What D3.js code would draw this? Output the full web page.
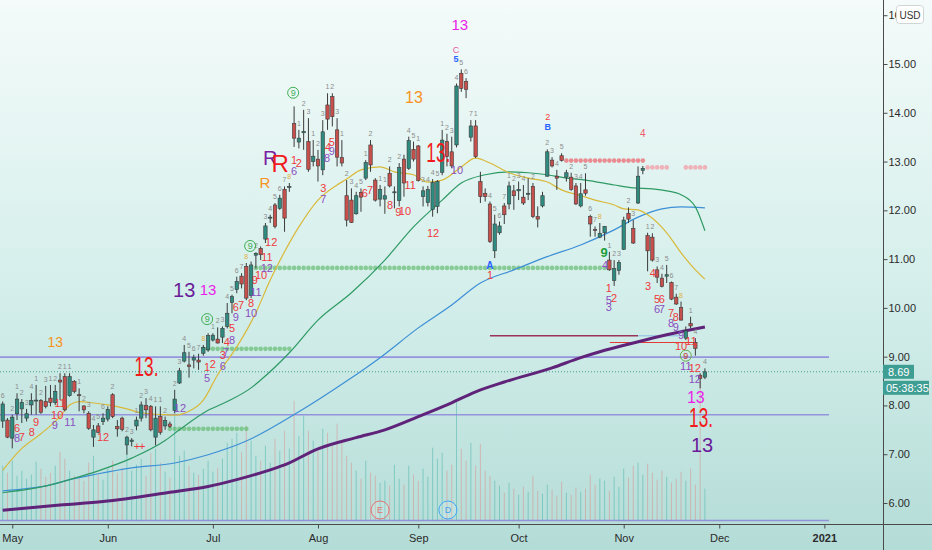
<!DOCTYPE html>
<html>
<head>
<meta charset="utf-8">
<script src="https://cdn.jsdelivr.net/npm/d3@7"></script>
<style>
  body { margin: 0; overflow: hidden; }
  svg { display: block; font-family: "Liberation Sans", Arial, sans-serif; }
</style>
</head>
<body>
<svg id="chart" width="932" height="550"></svg>
<script>
// daily candles, first bar = Apr 29 2020, last bar = Nov 25 2020
var open = [
  7.68,7.70,7.33,7.83,7.93,7.74,8.01,8.09,8.10,8.08,
  8.15,8.06,8.52,8.59,8.20,8.49,8.22,7.99,7.84,7.35,
  7.58,7.67,7.72,8.22,7.57,7.74,7.19,7.26,7.58,7.74,
  8.00,7.98,7.35,7.77,7.58,7.62,7.90,8.46,8.91,8.83,
  8.93,8.93,9.07,9.14,9.34,9.36,9.40,9.62,10.11,10.38,
  10.65,10.85,10.25,11.08,11.22,11.41,11.84,12.11,12.04,12.43,
  12.47,13.78,13.40,13.59,13.41,13.00,13.05,12.83,14.16,14.33,
  13.65,13.08,12.30,12.21,11.93,12.37,12.66,13.34,12.62,12.23,
  12.23,12.76,12.36,12.20,13.05,12.86,13.25,13.32,12.28,12.16,
  12.02,12.08,12.78,13.41,13.20,13.34,14.81,14.64,13.50,13.73,
  12.59,12.35,12.13,11.17,11.54,12.09,12.13,12.40,12.40,12.27,
  12.33,12.49,11.87,12.09,12.70,13.03,12.70,13.12,12.68,12.68,
  12.50,12.09,12.42,11.87,11.61,11.45,11.54,10.98,10.56,10.77,
  11.20,11.94,11.63,12.15,12.82,11.48,11.45,10.78,10.61,10.65,
  10.52,10.22,10.01,9.38,9.68,9.29,8.62,8.58
];
var high = [
  8.08,7.74,7.81,8.25,8.13,7.93,8.25,8.42,8.13,8.40,
  8.42,8.42,8.66,8.66,8.66,8.52,8.35,8.00,7.88,7.60,
  7.64,7.84,7.98,8.25,7.70,7.77,7.38,7.33,7.77,8.08,
  8.15,8.01,7.98,7.98,7.77,7.67,8.32,8.77,9.24,9.10,
  9.04,9.06,9.24,9.48,9.48,9.60,9.62,10.10,10.27,10.64,
  10.71,10.92,10.95,11.14,11.26,11.74,11.91,12.15,12.32,12.49,
  12.56,14.13,13.65,14.06,13.89,13.44,13.24,13.85,14.40,14.40,
  13.89,13.44,12.62,12.45,12.38,12.45,13.03,13.44,12.66,12.52,
  12.49,12.90,12.49,12.97,13.14,13.51,13.41,13.34,12.49,12.50,
  12.64,12.62,13.65,13.57,13.51,14.60,14.89,14.71,13.85,13.85,
  12.79,12.45,12.18,11.91,11.77,12.15,12.59,12.52,12.59,12.52,
  12.66,12.56,12.08,12.38,13.25,13.09,12.83,13.17,12.83,12.77,
  12.56,12.56,12.76,11.91,11.67,11.74,11.68,11.15,10.98,10.98,
  11.87,12.06,11.80,12.90,12.91,11.54,11.53,10.85,10.70,10.88,
  10.54,10.29,10.13,9.62,9.82,9.38,8.66,8.76
];
var low = [
  7.54,7.33,7.12,7.70,7.64,7.67,7.81,7.81,7.83,7.94,
  7.98,8.01,8.11,7.88,8.18,8.25,7.88,7.84,7.50,7.15,
  7.43,7.60,7.67,7.74,7.36,7.47,6.99,7.16,7.49,7.67,
  7.74,7.47,7.18,7.40,7.50,7.54,7.84,8.44,8.88,8.57,
  8.76,8.73,9.02,9.10,9.31,9.27,9.28,9.58,9.89,10.30,
  10.40,10.16,10.20,10.81,10.98,11.33,11.74,11.63,12.01,11.56,
  12.38,13.30,13.27,13.24,12.79,12.90,12.59,12.72,13.65,13.72,
  12.90,12.90,11.67,11.74,11.91,11.97,12.62,12.79,12.18,12.08,
  11.93,12.47,12.04,12.08,12.28,12.83,13.00,12.59,12.08,12.08,
  11.87,11.94,12.72,12.90,12.86,13.29,14.43,14.30,13.41,13.07,
  12.15,12.18,11.33,11.02,11.50,11.72,12.02,12.01,12.21,12.11,
  12.21,11.84,11.65,12.06,12.69,12.88,12.42,13.00,12.59,12.40,
  12.11,12.06,12.30,11.46,11.46,11.43,11.38,10.76,10.45,10.68,
  11.19,11.74,11.31,12.13,12.74,10.75,10.95,10.51,10.42,10.51,
  10.16,10.06,9.74,9.34,9.58,9.02,8.35,8.54
];
var close = [
  8.03,7.35,7.76,8.13,8.06,7.83,8.10,8.11,7.86,7.98,
  8.06,8.29,8.48,7.91,8.59,8.29,8.21,7.91,7.53,7.50,
  7.45,7.74,7.92,7.77,7.52,7.51,7.35,7.29,7.70,8.01,
  7.91,7.50,7.74,7.45,7.69,7.57,8.13,8.71,9.08,8.80,
  8.98,8.89,9.19,9.43,9.44,9.28,9.58,9.89,10.23,10.54,
  10.49,10.20,10.88,11.12,11.09,11.68,11.86,11.67,12.25,11.84,
  12.49,13.48,13.48,13.62,12.84,13.11,12.91,13.61,13.87,13.92,
  13.09,12.97,11.80,11.75,12.30,12.27,12.98,12.93,12.21,12.43,
  12.30,12.50,12.38,12.88,12.56,13.43,13.05,12.61,12.40,12.43,
  12.57,12.59,13.44,13.10,12.91,14.55,14.50,14.48,13.73,13.10,
  12.28,12.28,11.36,11.72,11.68,11.91,12.50,12.30,12.43,12.15,
  12.35,11.87,11.82,12.30,13.20,12.91,12.66,13.02,12.77,12.43,
  12.13,12.34,12.35,11.72,11.60,11.53,11.67,10.78,10.81,10.93,
  11.80,11.82,11.33,12.70,12.86,11.17,10.98,10.63,10.44,10.68,
  10.18,10.08,9.75,9.53,9.63,9.17,8.55,8.69
];
// volume in millions
var volume = [
  5.5,4.8,6.0,4.5,5.0,4.2,4.6,5.9,5.2,4.4,
  4.8,5.5,6.9,6.2,5.0,4.5,4.2,4.0,5.8,6.5,
  4.6,4.1,5.2,6.0,4.8,5.3,7.5,5.0,5.6,6.2,
  4.5,6.8,7.2,5.8,4.9,4.3,12.0,6.5,7.0,5.5,
  4.8,4.6,5.2,6.0,4.9,5.3,6.2,7.8,8.2,8.8,
  6.9,9.5,8.0,6.5,6.0,7.5,5.8,8.2,7.0,9.0,
  7.2,12.0,8.5,10.5,9.0,8.0,7.0,9.2,8.8,7.5,
  9.7,8.0,6.5,5.8,5.0,4.2,6.0,4.8,4.5,3.8,
  4.0,3.5,5.6,4.2,3.6,5.5,4.6,4.0,5.2,4.4,
  7.3,6.2,6.8,5.0,5.6,12.0,7.2,6.0,7.8,5.5,
  7.7,5.0,4.5,4.0,3.5,2.8,3.8,3.2,2.6,3.4,
  2.9,4.5,3.0,2.7,3.6,3.1,2.5,3.9,2.8,2.6,
  3.3,2.9,3.2,4.6,3.6,4.2,4.0,3.0,4.4,3.4,
  5.2,4.3,5.5,5.8,4.6,5.7,4.8,4.1,5.0,4.4,
  3.8,4.2,4.9,4.0,5.2,3.6,14.0,3.2
];

// moving averages: [bar index, price]
var maYellow = [[0,6.67],[4,7.12],[8,7.42],[12,7.77],[14,8.01],[16,8.08],[19,8.05],[22,8.01],[26,7.93],
  [29,7.85],[32,7.82],[34,7.81],[36,7.80],[39,7.88],[42,8.11],[45,8.63],[49,9.20],[53,9.90],[56,10.57],
  [59,11.15],[62,11.66],[66,12.21],[70,12.52],[72,12.64],[75,12.83],[79,12.89],[82,12.79],[86,12.73],
  [89,12.58],[92,12.62],[96,12.89],[99,13.07],[102,12.97],[106,12.77],[110,12.66],[114,12.58],[117,12.42],
  [121,12.30],[124,12.21],[128,12.11],[130,12.03],[133,12.01],[135,11.91],[139,11.54],[142,11.13],
  [145,10.78],[147,10.59]];
var maGreen = [[0,6.21],[10,6.37],[14,6.48],[20,6.66],[27,6.92],[34,7.28],[37,7.50],[43,7.90],[47,8.08],
  [52,8.36],[54,8.52],[60,9.08],[66,9.75],[73,10.31],[80,10.98],[86,11.66],[92,12.21],
  [96,12.56],[101,12.73],[106,12.79],[110,12.77],[114,12.73],[118,12.66],[122,12.62],[128,12.52],
  [132,12.46],[136,12.44],[139,12.40],[142,12.32],[145,12.07],[147,11.58]];
var maBlue = [[0,6.25],[10,6.37],[14,6.48],[20,6.60],[27,6.72],[36,6.82],[43,6.99],[51,7.27],[62,7.87],
  [72,8.50],[79,8.98],[87,9.59],[94,10.06],[100,10.51],[107,10.78],[114,11.05],[121,11.29],[128,11.60],
  [133,11.86],[138,12.03],[142,12.07],[147,12.05]];
var maPurple = [[0,5.85],[12,5.96],[21,6.03],[35,6.22],[43,6.34],[49,6.48],[56,6.68],[59,6.78],[66,7.11],
  [74,7.34],[80,7.50],[87,7.77],[93,8.01],[99,8.28],[105,8.48],[115,8.77],[121,8.98],[125,9.10],
  [132,9.28],[139,9.45],[147,9.61]];

// month ticks: label and bar index of first session
var monthLabels = ["May","Jun","Jul","Aug","Sep","Oct","Nov","Dec","2021"];
var monthBars = [2,22,44,66,87,108,130,150,172];

// price levels
var levelLines = [8.99, 7.81, 5.64];
var lastPrice = 8.69;

// dotted support / resistance rows: price, first bar, last bar, colour
var dotRows = [
  [10.82, 53, 126, "g"], [9.16, 42, 60, "g"], [7.52, 35, 51, "g"],
  [13.02, 118, 134, "r"], [12.88, 135, 139, "p"], [12.88, 143, 147, "p"]
];

// small grey setup counts above candles: [bar number (1 = first), text]
var setupCounts = [
  [1,"6"],[3,"2"],[4,"1"],[5,"2"],[6,"3"],[7,"4"],[8,"1"],[9,"2"],[10,"3"],[11,"1"],[12,"2"],[13,"2"],
  [14,"1"],[15,"1"],[17,"1"],[18,"2"],[19,"3"],[20,"4"],[21,"5"],[22,"6"],[24,"2"],[27,"2"],[28,"3"],
  [29,"1"],[30,"2"],[31,"3"],[32,"4"],[33,"1"],[34,"1"],[35,"2"],[37,"2"],[38,"3"],[39,"4"],[40,"5"],
  [41,"6"],[42,"7"],[43,"8"],[45,"1"],[46,"2"],[47,"3"],[48,"4"],[49,"5"],[50,"6"],[51,"7"],[52,"8"],
  [54,"2"],[56,"3"],[57,"4"],[58,"5"],[59,"6"],[60,"7"],[61,"8"],[63,"1"],[64,"2"],[65,"3"],[66,"1"],
  [67,"2"],[68,"3"],[69,"1"],[70,"2"],[71,"3"],[72,"1"],[73,"2"],[74,"3"],[75,"4"],[76,"5"],[77,"1"],
  [78,"2"],[80,"1"],[81,"1"],[82,"2"],[84,"2"],[86,"4"],[87,"5"],[88,"1"],[89,"3"],[90,"4"],[91,"4"],
  [92,"5"],[93,"1"],[94,"2"],[95,"3"],[96,"4"],[97,"5"],[98,"6"],[99,"7"],[100,"1"],[103,"4"],[104,"5"],
  [105,"6"],[106,"7"],[107,"1"],[108,"2"],[109,"3"],[110,"4"],[112,"2"],[115,"2"],[116,"3"],[117,"4"],
  [118,"5"],[120,"2"],[121,"3"],[122,"4"],[123,"5"],[124,"6"],[125,"7"],[126,"8"],[128,"1"],[129,"2"],
  [130,"3"],[132,"2"],[133,"3"],[136,"1"],[137,"2"],[138,"3"],[139,"4"],[140,"5"],[141,"6"],[142,"7"],
  [143,"8"],[145,"1"],[146,"4"],[148,"4"]
];

// countdown numbers: bar index, price, text, r = red / v = violet
var countLabels = [
  [3.0,7.54,"6","r"],[3.0,7.34,"8","v"],[4.0,7.36,"7","r"],[6.1,7.46,"8","r"],[7.0,7.66,"9","r"],
  [10.9,7.60,"9","v"],[11.4,7.81,"10","r"],[12.0,8.05,"11","r"],[14.1,7.66,"11","v"],[21.0,7.36,"12","r"],
  [28.1,7.17,"+","r"],[29.2,7.17,"+","r"],[37.1,7.95,"12","v"],
  [42.8,8.79,"1","r"],[44.0,8.85,"2","r"],[42.8,8.57,"5","v"],[46.1,9.04,"3","r"],[46.1,8.81,"6","v"],
  [46.7,9.10,"7","v"],[46.9,9.30,"4","r"],[48.0,9.34,"8","v"],[48.0,9.59,"5","r"],[48.8,9.82,"9","v"],
  [48.8,10.02,"6","r"],[49.9,10.06,"7","r"],[52.0,10.10,"8","r"],[52.0,9.90,"10","v"],[53.0,10.33,"11","v"],
  [52.8,10.57,"9","r"],[54.1,10.68,"10","r"],[55.3,10.82,"12","v"],[55.3,11.05,"11","r"],[56.2,11.35,"12","r"],
  [61.0,13.03,"1","r"],[62.0,12.97,"2","r"],[61.0,12.81,"6","v"],[67.1,12.46,"3","r"],[67.1,12.23,"7","v"],
  [68.1,13.30,"4","r"],[68.9,13.40,"5","r"],[67.9,13.07,"8","v"],[68.9,13.22,"9","v"],
  [75.8,12.36,"6","r"],[76.9,12.42,"7","r"],[81.1,12.11,"8","r"],[82.8,11.97,"9","r"],[84.2,11.99,"10","r"],
  [85.3,12.52,"11","r"],[90.1,11.54,"12","r"],[95.1,12.83,"10","v"],[102.0,10.68,"1","r"],
  [126.1,10.88,"4","v"],[126.9,10.41,"1","r"],[126.9,10.16,"5","v"],[128.0,10.20,"2","r"],[126.9,10.02,"3","v"],
  [135.1,10.45,"3","r"],[136.1,10.72,"4","r"],[137.0,10.18,"5","r"],[138.0,10.18,"6","r"],[137.0,9.98,"6","v"],
  [138.0,9.98,"7","v"],[139.9,9.90,"7","r"],[140.9,9.82,"8","r"],[139.9,9.69,"8","v"],[140.9,9.61,"9","v"],
  [142.0,9.45,"9","v"],[142.0,9.22,"10","r"],[144.1,9.32,"11","r"],[143.0,8.81,"11","v"],[144.9,8.77,"12","r"],
  [144.9,8.55,"12","v"]
];

// larger signal labels: bar index, price, text, colour, font size, squeezed width
var bigLabels = [
  [11.0,9.30,"13","#f7931e",14,0],[30.1,8.79,"13.","#f21b1b",28,24],[38.0,10.37,"13","#6a1b9a",20,0],
  [43.0,10.37,"13","#e91ee8",15,0],[54.9,12.58,"R","#f7931e",15,0],[56.0,13.07,"R","#7b1fa2",20,0],
  [58.1,12.97,"R","#f21b1b",24,0],[86.1,14.32,"13","#f7931e",16,0],[95.7,15.82,"13","#e91ee8",15,0],
  [91.2,13.19,"13.","#f21b1b",28,24],[145.1,8.16,"13","#e91ee8",16,0],[146.2,7.76,"13.","#f21b1b",28,24],
  [146.4,7.19,"13","#6a1b9a",20,0],
  [102.0,10.86,"A","#2962ff",10,0],[125.9,11.13,"9","#1e9e3a",13,0],[114.1,13.91,"2","#f23b3b",9,0],
  [114.1,13.71,"B","#2962ff",9,0],[134.0,13.57,"4","#f05a6a",10,0],[94.9,15.29,"C","#e8609a",9,0],
  [94.9,15.10,"5","#2962ff",9,0]
];
var circledNines = [[42.8,9.77],[51.8,11.27],[60.8,14.41],[143.0,9.02]];

var width = 932, height = 550;
var plotRight = 883, plotBottom = 524.5;
var barStep = 4.777;

var svg = d3.select("#chart");

var x = d3.scaleLinear().domain([0, 184]).range([2.7, 2.7 + 184 * barStep]);
var y = d3.scaleLinear().domain([6, 15]).range([503, 64]);
var yVol = d3.scaleLinear().domain([0, 14]).range([520.7, 380.7]);

// background gradient
var defs = svg.append("defs");
var grad = defs.append("linearGradient").attr("id", "bg").attr("x1", 0).attr("y1", 0).attr("x2", 0).attr("y2", 1);
grad.append("stop").attr("offset", "0%").attr("stop-color", "#f4fbfa");
grad.append("stop").attr("offset", "55%").attr("stop-color", "#d3eeea");
grad.append("stop").attr("offset", "100%").attr("stop-color", "#b4dcd7");
defs.append("clipPath").attr("id", "plotClip")
  .append("rect").attr("x", 0).attr("y", 0).attr("width", plotRight).attr("height", plotBottom);

svg.append("rect").attr("width", width).attr("height", height).attr("fill", "url(#bg)");

var plot = svg.append("g").attr("clip-path", "url(#plotClip)");

var bars = d3.range(close.length);

// volume
plot.append("g").selectAll("line").data(bars).enter().append("line")
  .attr("x1", d => x(d)).attr("x2", d => x(d))
  .attr("y1", yVol(0)).attr("y2", d => yVol(volume[d]))
  .attr("stroke", d => close[d] >= open[d] ? "rgba(38,166,154,0.4)" : "rgba(239,83,80,0.3)")
  .attr("stroke-width", 1);

// horizontal levels
plot.append("g").selectAll("line").data(levelLines).enter().append("line")
  .attr("x1", 0).attr("x2", 829)
  .attr("y1", d => y(d)).attr("y2", d => y(d))
  .attr("stroke", "#8c85dc").attr("stroke-width", 1.6).attr("opacity", 0.85);

// last price dotted line
plot.append("line")
  .attr("x1", 0).attr("x2", plotRight)
  .attr("y1", y(lastPrice)).attr("y2", y(lastPrice))
  .attr("stroke", "#3f9e93").attr("stroke-width", 1).attr("stroke-dasharray", "1,2");

// short trend lines near the end
plot.append("line").attr("x1", x(102)).attr("x2", x(133)).attr("y1", y(9.43)).attr("y2", y(9.43))
  .attr("stroke", "#9a3358").attr("stroke-width", 1.4);
plot.append("line").attr("x1", x(133)).attr("x2", x(143.3)).attr("y1", y(9.43)).attr("y2", y(9.43))
  .attr("stroke", "#9ccbe6").attr("stroke-width", 1.4);
plot.append("line").attr("x1", x(127.1)).attr("x2", x(145.3)).attr("y1", y(9.29)).attr("y2", y(9.29))
  .attr("stroke", "#e53935").attr("stroke-width", 1.2);

// dotted rows
var dotColor = { g: "rgba(92,184,104,0.65)", r: "rgba(236,96,104,0.7)", p: "rgba(244,150,160,0.7)" };
dotRows.forEach(function(row) {
  plot.append("g").selectAll("circle").data(d3.range(row[1], row[2] + 1)).enter().append("circle")
    .attr("cx", d => x(d)).attr("cy", y(row[0])).attr("r", 2.3)
    .attr("fill", dotColor[row[3]]);
});

// moving averages
var maLine = d3.line().x(d => x(d[0])).y(d => y(d[1])).curve(d3.curveMonotoneX);
plot.append("path").datum(maBlue).attr("d", maLine).attr("fill", "none").attr("stroke", "#3d8fd6").attr("stroke-width", 1.2);
plot.append("path").datum(maGreen).attr("d", maLine).attr("fill", "none").attr("stroke", "#2e9a64").attr("stroke-width", 1.2);
plot.append("path").datum(maYellow).attr("d", maLine).attr("fill", "none").attr("stroke", "#d9b93a").attr("stroke-width", 1.2);
plot.append("path").datum(maPurple).attr("d", maLine).attr("fill", "none").attr("stroke", "#5f2379").attr("stroke-width", 3);

// candles
var candle = plot.append("g").selectAll("g").data(bars).enter().append("g");
candle.append("line")
  .attr("x1", d => x(d)).attr("x2", d => x(d))
  .attr("y1", d => y(high[d])).attr("y2", d => y(low[d]))
  .attr("stroke", "#3a3a3a").attr("stroke-width", 1);
candle.append("rect")
  .attr("x", d => x(d) - 1.7).attr("width", 3.4)
  .attr("y", d => y(Math.max(open[d], close[d])))
  .attr("height", d => Math.max(1, Math.abs(y(open[d]) - y(close[d]))))
  .attr("fill", d => close[d] >= open[d] ? "#2f8b7f" : "#c8504c")
  .attr("stroke", "#3a3a3a").attr("stroke-width", 0.6);

// grey setup counts
plot.append("g").selectAll("text").data(setupCounts).enter().append("text")
  .attr("x", d => x(d[0] - 1)).attr("y", d => y(high[d[0] - 1]) - 4)
  .attr("text-anchor", "middle").attr("font-size", 7)
  .attr("fill", d => d[1] === "8" ? "#e0b040" : "#8c8c8c")
  .text(d => d[1]);

// countdown numbers
plot.append("g").selectAll("text").data(countLabels).enter().append("text")
  .attr("x", d => x(d[0])).attr("y", d => y(d[1]))
  .attr("text-anchor", "middle").attr("dominant-baseline", "central")
  .attr("font-size", 11)
  .attr("fill", d => d[3] === "r" ? "#f0393c" : "#8a4fc0")
  .text(d => d[2]);

// circled nines
var nine = plot.append("g").selectAll("g").data(circledNines).enter().append("g")
  .attr("transform", d => `translate(${x(d[0])},${y(d[1])})`);
nine.append("circle").attr("r", 5.5).attr("fill", "none")
  .attr("stroke", (d, i) => i === 3 ? "#6aa84f" : "#3fae55").attr("stroke-width", 1);
nine.append("text").attr("text-anchor", "middle").attr("dominant-baseline", "central")
  .attr("font-size", 9).attr("fill", (d, i) => i === 3 ? "#c0392b" : "#3fae55").text("9");

// big signal labels
plot.append("g").selectAll("text").data(bigLabels).enter().append("text")
  .attr("x", d => x(d[0])).attr("y", d => y(d[1]))
  .attr("text-anchor", "middle").attr("dominant-baseline", "central")
  .attr("font-size", d => d[4])
  .attr("font-weight", d => (d[2] === "A" || d[2] === "B" || d[2] === "5" || d[4] === 13) ? "bold" : "normal")
  .attr("font-family", d => d[5] ? "'Liberation Sans Narrow', 'Liberation Sans', Arial" : null)
  .attr("textLength", d => d[5] ? d[5] : null)
  .attr("lengthAdjust", d => d[5] ? "spacingAndGlyphs" : null)
  .attr("fill", d => d[3])
  .text(d => d[2]);

// earnings / dividend markers
var events = [[79.0, "E", "#e57373"], [93.2, "D", "#42a5f5"]];
var ev = plot.append("g").selectAll("g").data(events).enter().append("g")
  .attr("transform", d => `translate(${x(d[0])},510)`);
ev.append("circle").attr("r", 9).attr("fill", "rgba(255,255,255,0.15)").attr("stroke", d => d[2]).attr("stroke-width", 1);
ev.append("text").attr("text-anchor", "middle").attr("dominant-baseline", "central")
  .attr("font-size", 9).attr("fill", d => d[2]).text(d => d[1]);

// time axis
svg.append("line").attr("x1", 0).attr("x2", width).attr("y1", plotBottom).attr("y2", plotBottom)
  .attr("stroke", "#4a4a4a").attr("stroke-width", 1);
var xAxis = d3.axisBottom(x).tickValues(monthBars).tickSize(4).tickPadding(6)
  .tickFormat((d, i) => monthLabels[i]);
var gx = svg.append("g").attr("transform", `translate(0,${plotBottom})`).call(xAxis);
gx.select(".domain").remove();
gx.selectAll("line").attr("stroke", "#4a4a4a");
gx.selectAll("text").attr("font-size", 11).attr("fill", "#2b2b2b")
  .attr("font-family", "'Liberation Sans', Arial")
  .attr("font-weight", (d, i) => monthLabels[i] === "2021" ? "bold" : "normal");

// price axis
svg.append("line").attr("x1", plotRight + 0.5).attr("x2", plotRight + 0.5).attr("y1", 0).attr("y2", height)
  .attr("stroke", "#4a4a4a").attr("stroke-width", 1);
var yAxis = d3.axisRight(y).tickValues(d3.range(6, 17)).tickSize(4).tickPadding(1).tickFormat(d3.format(".2f"));
var gy = svg.append("g").attr("transform", `translate(${plotRight + 0.5},0)`).call(yAxis);
gy.select(".domain").remove();
gy.selectAll("line").attr("stroke", "#4a4a4a");
gy.selectAll("text").attr("font-size", 11).attr("fill", "#2b2b2b").attr("font-family", "'Liberation Sans', Arial");

// currency box
svg.append("rect").attr("x", 896.5).attr("y", 5.5).attr("width", 27).attr("height", 18).attr("rx", 3)
  .attr("fill", "#ffffff").attr("stroke", "#cfd6d6");
svg.append("text").attr("x", 910).attr("y", 15).attr("text-anchor", "middle").attr("dominant-baseline", "central")
  .attr("font-size", 10).attr("fill", "#333").text("USD");

// last price tag and countdown
var tagY = y(lastPrice);
svg.append("rect").attr("x", plotRight).attr("y", tagY - 7).attr("width", 31).attr("height", 14).attr("fill", "#3f9e93");
svg.append("text").attr("x", plotRight + 5).attr("y", tagY).attr("dominant-baseline", "central")
  .attr("font-size", 11).attr("fill", "#ffffff").text(lastPrice.toFixed(2));
svg.append("rect").attr("x", plotRight).attr("y", tagY + 9).attr("width", 46).attr("height", 14).attr("fill", "#3f9e93");
svg.append("text").attr("x", plotRight + 3).attr("y", tagY + 16).attr("dominant-baseline", "central")
  .attr("font-size", 11).attr("fill", "#ffffff").text("05:38:35");
</script>
</body>
</html>
